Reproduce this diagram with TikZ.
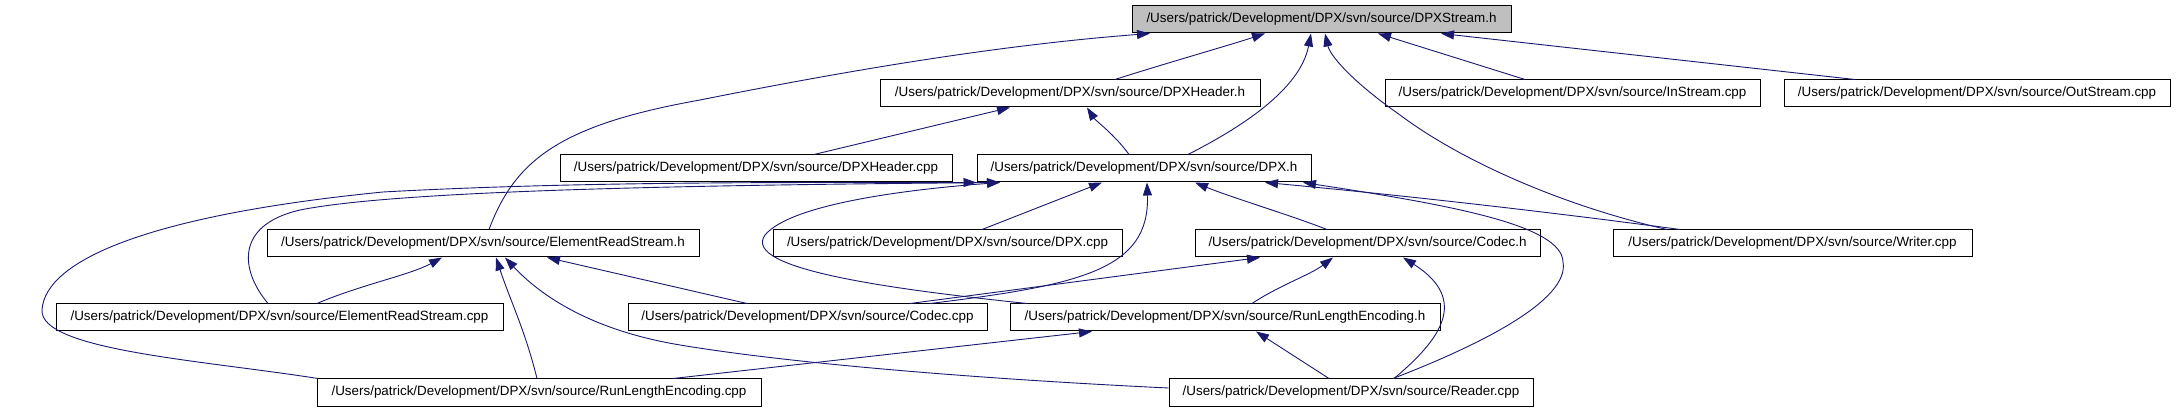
\documentclass[tikz,border=0pt]{standalone}
\usepackage{fontspec}
\setmainfont{Liberation Sans}
\usetikzlibrary{arrows.meta}
\definecolor{edgeblue}{RGB}{25,25,112}
\definecolor{rootgray}{RGB}{191,191,191}
\begin{document}
\begin{tikzpicture}[x=1pt,y=-1pt,
  filebox/.style={draw=black,line width=1pt,fill=white,minimum height=27pt,inner sep=0pt,
    font=\fontsize{13.4}{16}\selectfont},
  rootbox/.style={filebox,fill=rootgray},
  dep/.style={draw=edgeblue,line width=0.9pt,-{Triangle[length=13pt,width=9pt,fill=edgeblue]}}]
\useasboundingbox (0,0) rectangle (2176,411);
% nodes
\node[rootbox,minimum width=379pt] (stream) at (1321.5,19.5) {/Users/patrick/Development/DPX/svn/source/DPXStream.h};
\node[filebox,minimum width=380pt] (dpxheaderh) at (1070,93.5) {/Users/patrick/Development/DPX/svn/source/DPXHeader.h};
\node[filebox,minimum width=375pt] (instream) at (1572.5,93.5) {/Users/patrick/Development/DPX/svn/source/InStream.cpp};
\node[filebox,minimum width=386pt] (outstream) at (1977,93.5) {/Users/patrick/Development/DPX/svn/source/OutStream.cpp};
\node[filebox,minimum width=334pt] (dpxh) at (1144,168.5) {/Users/patrick/Development/DPX/svn/source/DPX.h};
\node[filebox,minimum width=392pt] (dpxheadercpp) at (756,168.5) {/Users/patrick/Development/DPX/svn/source/DPXHeader.cpp};
\node[filebox,minimum width=432pt] (ersh) at (483,243.5) {/Users/patrick/Development/DPX/svn/source/ElementReadStream.h};
\node[filebox,minimum width=349pt] (dpxcpp) at (947.5,243.5) {/Users/patrick/Development/DPX/svn/source/DPX.cpp};
\node[filebox,minimum width=345pt] (codech) at (1367.5,243.5) {/Users/patrick/Development/DPX/svn/source/Codec.h};
\node[filebox,minimum width=359pt] (writer) at (1792.5,243.5) {/Users/patrick/Development/DPX/svn/source/Writer.cpp};
\node[filebox,minimum width=447pt] (erscpp) at (279.5,317.5) {/Users/patrick/Development/DPX/svn/source/ElementReadStream.cpp};
\node[filebox,minimum width=359pt] (codeccpp) at (807.5,317.5) {/Users/patrick/Development/DPX/svn/source/Codec.cpp};
\node[filebox,minimum width=430pt] (rleh) at (1225,317.5) {/Users/patrick/Development/DPX/svn/source/RunLengthEncoding.h};
\node[filebox,minimum width=444pt] (rlecpp) at (539,392.5) {/Users/patrick/Development/DPX/svn/source/RunLengthEncoding.cpp};
\node[filebox,minimum width=364pt] (reader) at (1351,392.5) {/Users/patrick/Development/DPX/svn/source/Reader.cpp};
% edges to DPXStream.h
\draw[dep] ([xshift=45pt]dpxheaderh.north) .. controls (1160,65) and (1230,45) .. ([xshift=-56.5pt]stream.south);
\draw[dep] ([xshift=44pt]dpxh.north) .. controls (1240,128) and (1300,90) .. ([xshift=-10.5pt]stream.south);
\draw[dep] ([xshift=-47.5pt]instream.north) -- ([xshift=56.5pt]stream.south);
\draw[dep] ([xshift=-122pt]outstream.north) -- ([xshift=119.5pt]stream.south);
\draw[dep] ([xshift=-125.5pt]writer.north) .. controls (1560,205) and (1460,160) .. (1400,115) .. controls (1350,80) and (1330,55) .. ([xshift=3.5pt]stream.south);
\draw[dep] ([xshift=6pt]ersh.north) .. controls (515,160) and (560,125) .. (700,100) .. controls (850,70) and (1000,45) .. ([xshift=-171.5pt]stream.south);
% edges to DPXHeader.h
\draw[dep] ([xshift=58pt]dpxheadercpp.north) -- ([xshift=-60pt]dpxheaderh.south);
\draw[dep] ([xshift=-15pt]dpxh.north) .. controls (1115,135) and (1095,120) .. ([xshift=17pt]dpxheaderh.south);
% edges to DPX.h
\draw[dep] ([xshift=34.5pt]dpxcpp.north) -- ([xshift=-42pt]dpxh.south);
\draw[dep] ([xshift=-40.5pt]codech.north) .. controls (1290,215) and (1230,197) .. ([xshift=51pt]dpxh.south);
\draw[dep] ([xshift=122.5pt]codeccpp.north) .. controls (1080,285) and (1150,270) .. ([xshift=3pt]dpxh.south);
\draw[dep] ([xshift=-198pt]rleh.north) .. controls (900,290) and (740,270) .. (765,235) .. controls (790,205) and (900,190) .. ([xshift=-144pt]dpxh.south);
\draw[dep] ([xshift=-11.5pt]erscpp.north) .. controls (240,270) and (235,225) .. (300,210) .. controls (400,190) and (700,185) .. ([xshift=-144pt]dpxh.south);
\draw[dep] ([xshift=-221pt]rlecpp.north) .. controls (200,360) and (40,350) .. (42,310) .. controls (45,260) and (150,215) .. (383,192) .. controls (600,180) and (850,183) .. (dpxh.south west);
\draw[dep] ([xshift=42pt]reader.north) .. controls (1480,345) and (1570,300) .. (1563,262) .. controls (1562,225) and (1450,205) .. ([xshift=159pt]dpxh.south);
\draw[dep] ([xshift=-112.5pt]writer.north) .. controls (1550,212) and (1400,195) .. ([xshift=121pt]dpxh.south);
% edges to Codec.h
\draw[dep] ([xshift=102.5pt]codeccpp.north) -- ([xshift=-107.5pt]codech.south);
\draw[dep] ([xshift=27pt]rleh.north) .. controls (1280,285) and (1310,275) .. ([xshift=-34.5pt]codech.south);
\draw[dep] ([xshift=43pt]reader.north) .. controls (1440,340) and (1470,300) .. ([xshift=35.5pt]codech.south);
% edges to ElementReadStream.h
\draw[dep] ([xshift=37.5pt]erscpp.north) .. controls (360,285) and (410,275) .. ([xshift=-41pt]ersh.south);
\draw[dep] ([xshift=-2pt]rlecpp.north) .. controls (525,330) and (510,300) .. ([xshift=13pt]ersh.south);
\draw[dep] ([yshift=4.5pt]reader.west) .. controls (1000,380) and (800,365) .. (680,345) .. controls (590,330) and (540,295) .. ([xshift=22pt]ersh.south);
\draw[dep] ([xshift=-60.5pt]codeccpp.north) -- ([xshift=64pt]ersh.south);
% edges to RunLengthEncoding.h
\draw[dep] ([xshift=134pt]rlecpp.north) -- ([xshift=-133pt]rleh.south);
\draw[dep] ([xshift=-22pt]reader.north) -- ([xshift=31pt]rleh.south);
\end{tikzpicture}
\end{document}
